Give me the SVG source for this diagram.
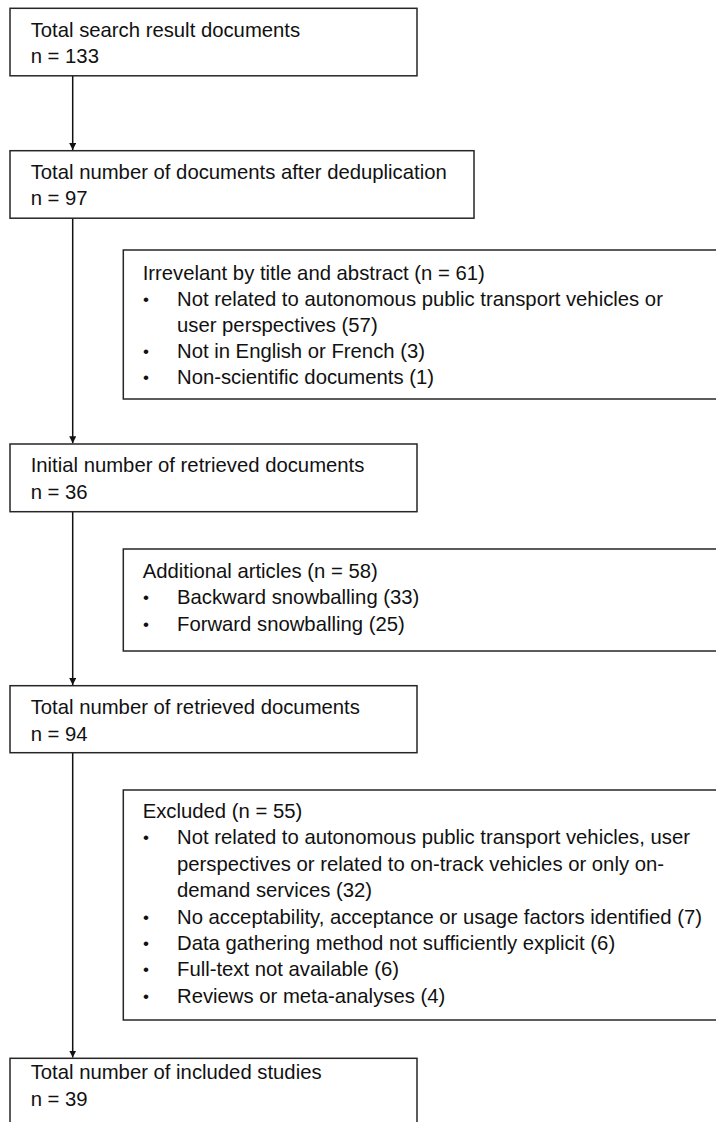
<svg xmlns="http://www.w3.org/2000/svg" width="716" height="1122" viewBox="0 0 716 1122">
<style>
  .box { fill: #ffffff; stroke: #262626; stroke-width: 1.5; }
  .t { font-family: "Liberation Sans", Arial, sans-serif; font-size: 20.3px; fill: #111111; }
  .b { font-family: "Liberation Sans", Arial, sans-serif; font-size: 17px; fill: #111111; }
  .conn { stroke: #111111; stroke-width: 1.5; fill: none; }
</style>
<defs>
  <marker id="arrow" viewBox="0 0 10 10" refX="10" refY="5" markerWidth="7" markerHeight="7" markerUnits="userSpaceOnUse" orient="auto">
    <path d="M0,0 L10,5 L0,10 z" fill="#111111"/>
  </marker>
</defs>
<rect width="716" height="1122" fill="#ffffff"/>

<g id="connectors">
  <line class="conn" x1="72.7" y1="75.8" x2="72.7" y2="150" marker-end="url(#arrow)"/>
  <line class="conn" x1="72.7" y1="218.2" x2="72.7" y2="443.3" marker-end="url(#arrow)"/>
  <line class="conn" x1="72.7" y1="511.7" x2="72.7" y2="685" marker-end="url(#arrow)"/>
  <line class="conn" x1="72.7" y1="752.7" x2="72.7" y2="1057.6" marker-end="url(#arrow)"/>
</g>

<g id="n1">
  <rect class="box" x="10" y="8.3" width="407" height="67.5"/>
  <text class="t" x="30.7" y="36.5">Total search result documents</text>
  <text class="t" x="30.7" y="63.3">n = 133</text>
</g>

<g id="n2">
  <rect class="box" x="10" y="150.7" width="464" height="67.5"/>
  <text class="t" x="30.7" y="178.5">Total number of documents after deduplication</text>
  <text class="t" x="30.7" y="205.3">n = 97</text>
</g>

<g id="s1">
  <rect class="box" x="123.3" y="250" width="620" height="149"/>
  <text class="t" x="142.7" y="280">Irrevelant by title and abstract (n = 61)</text>
  <text class="b" x="143" y="305">•</text>
  <text class="t" x="177" y="306">Not related to autonomous public transport vehicles or</text>
  <text class="t" x="177" y="332">user perspectives (57)</text>
  <text class="b" x="143" y="357">•</text>
  <text class="t" x="177" y="358">Not in English or French (3)</text>
  <text class="b" x="143" y="383">•</text>
  <text class="t" x="177" y="384">Non-scientific documents (1)</text>
</g>

<g id="n3">
  <rect class="box" x="10" y="444" width="407" height="67.7"/>
  <text class="t" x="30.7" y="472.3">Initial number of retrieved documents</text>
  <text class="t" x="30.7" y="499.3">n = 36</text>
</g>

<g id="s2">
  <rect class="box" x="123.3" y="549" width="620" height="102"/>
  <text class="t" x="142.7" y="577.5">Additional articles (n = 58)</text>
  <text class="b" x="143" y="603">•</text>
  <text class="t" x="177" y="604">Backward snowballing (33)</text>
  <text class="b" x="143" y="629.5">•</text>
  <text class="t" x="177" y="630.5">Forward snowballing (25)</text>
</g>

<g id="n4">
  <rect class="box" x="10" y="685.7" width="407" height="67"/>
  <text class="t" x="30.7" y="714">Total number of retrieved documents</text>
  <text class="t" x="30.7" y="741">n = 94</text>
</g>

<g id="s3">
  <rect class="box" x="123.3" y="790" width="620" height="230"/>
  <text class="t" x="142.7" y="818">Excluded (n = 55)</text>
  <text class="b" x="143" y="843.4">•</text>
  <text class="t" x="177" y="844.4">Not related to autonomous public transport vehicles, user</text>
  <text class="t" x="177" y="870.8">perspectives or related to on-track vehicles or only on-</text>
  <text class="t" x="177" y="897.2">demand services (32)</text>
  <text class="b" x="143" y="922.6">•</text>
  <text class="t" x="177" y="923.6">No acceptability, acceptance or usage factors identified (7)</text>
  <text class="b" x="143" y="949">•</text>
  <text class="t" x="177" y="950">Data gathering method not sufficiently explicit (6)</text>
  <text class="b" x="143" y="975.4">•</text>
  <text class="t" x="177" y="976.4">Full-text not available (6)</text>
  <text class="b" x="143" y="1001.8">•</text>
  <text class="t" x="177" y="1002.8">Reviews or meta-analyses (4)</text>
</g>

<g id="n5">
  <rect class="box" x="10" y="1058.3" width="407" height="80"/>
  <text class="t" x="30.7" y="1079">Total number of included studies</text>
  <text class="t" x="30.7" y="1106">n = 39</text>
</g>
</svg>
